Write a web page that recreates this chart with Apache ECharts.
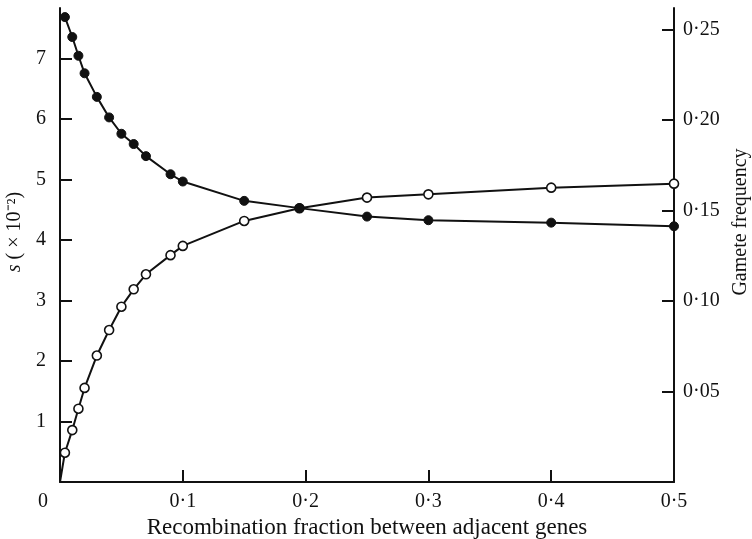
<!DOCTYPE html>
<html>
<head>
<meta charset="utf-8">
<script src="https://cdn.jsdelivr.net/npm/echarts@6/dist/echarts.min.js"></script>
<style>
  html, body { margin: 0; padding: 0; background: #fff; }
  #chart { width: 752px; height: 539px; }
</style>
</head>
<body>
<div id="chart"></div>
<script>
// recombination fraction r, shared by both curves
const recomb = [0.004, 0.01, 0.015, 0.02, 0.03, 0.04, 0.05, 0.06, 0.07, 0.09, 0.1, 0.15, 0.195, 0.25, 0.3, 0.4, 0.5]
// s (x 10^-2), filled circles, left axis
const sValues = [7.69, 7.36, 7.05, 6.76, 6.37, 6.03, 5.76, 5.59, 5.39, 5.09, 4.97, 4.65, 4.53, 4.39, 4.33, 4.29, 4.23]
// gamete frequency, open circles, right axis
const gameteValues = [0.0162, 0.0287, 0.0405, 0.052, 0.0699, 0.084, 0.0969, 0.1065, 0.1148, 0.1254, 0.1305, 0.1443, 0.1513, 0.1572, 0.159, 0.1627, 0.1649]

const xTicks = [0, 0.1, 0.2, 0.3, 0.4, 0.5]
const leftTicks = [1, 2, 3, 4, 5, 6, 7]
const rightTicks = [0.05, 0.1, 0.15, 0.2, 0.25]

const font = 'Liberation Serif'
const ink = '#111'
const dot = (v, n) => v.toFixed(n).replace('.', '\u00b7')

const chart = echarts.init(document.getElementById('chart'))

const axisCommon = {
  axisLine: { show: true, lineStyle: { color: ink, width: 2 } },
  axisTick: { show: true, inside: true, length: 12, lineStyle: { color: ink, width: 2 } },
  splitLine: { show: false },
  nameTextStyle: { color: ink, fontFamily: font, fontSize: 20 }
}

chart.setOption({
  animation: false,
  grid: { left: 60, right: 78, top: 8, bottom: 57, outerBoundsMode: 'none' },
  xAxis: {
    ...axisCommon,
    type: 'value',
    min: 0,
    max: 0.5,
    interval: 0.1,
    name: 'Recombination fraction between adjacent genes',
    nameLocation: 'middle',
    nameGap: 31,
    nameTextStyle: { ...axisCommon.nameTextStyle, fontSize: 23 },
    axisTick: { ...axisCommon.axisTick, customValues: [0.1, 0.2, 0.3, 0.4] },
    axisLabel: {
      customValues: xTicks,
      margin: 10,
      color: ink,
      fontFamily: font,
      fontSize: 20,
      formatter: v => v === 0 ? '{z|0}' : dot(v, 1),
      rich: { z: { fontFamily: font, fontSize: 20, color: ink, padding: [0, 34, 0, 0] } }
    }
  },
  yAxis: [
    {
      ...axisCommon,
      type: 'value',
      position: 'left',
      min: 0,
      max: 7.84,
      name: '{i|s} ( \u00d7 10\u207b\u00b2)',
      nameLocation: 'middle',
      nameRotate: 90,
      nameGap: 31,
      nameTextStyle: {
        ...axisCommon.nameTextStyle,
        padding: [0, 0, 0, 26],
        rich: { i: { fontFamily: font, fontSize: 20, fontStyle: 'italic', color: ink } }
      },
      axisTick: { ...axisCommon.axisTick, customValues: leftTicks },
      axisLabel: {
        customValues: leftTicks,
        margin: 14,
        color: ink,
        fontFamily: font,
        fontSize: 20
      }
    },
    {
      ...axisCommon,
      type: 'value',
      position: 'right',
      min: 0,
      max: 0.262,
      name: 'Gamete frequency',
      nameLocation: 'middle',
      nameRotate: 90,
      nameGap: 56,
      nameTextStyle: { ...axisCommon.nameTextStyle, padding: [0, 0, 0, 46] },
      axisTick: { ...axisCommon.axisTick, customValues: rightTicks },
      axisLabel: {
        customValues: rightTicks,
        margin: 9,
        color: ink,
        fontFamily: font,
        fontSize: 20,
        formatter: v => dot(v, 2)
      }
    }
  ],
  series: [
    {
      name: 'gamete',
      type: 'line',
      yAxisIndex: 1,
      z: 2,
      data: [{ value: [0, 0], symbol: 'none' }].concat(recomb.map((r, i) => [r, gameteValues[i]])),
      symbol: 'circle',
      symbolSize: 9,
      itemStyle: { color: '#fff', borderColor: ink, borderWidth: 1.6 },
      lineStyle: { color: ink, width: 2 }
    },
    {
      name: 's',
      type: 'line',
      yAxisIndex: 0,
      z: 3,
      data: recomb.map((r, i) => [r, sValues[i]]),
      symbol: 'circle',
      symbolSize: 9,
      itemStyle: { color: ink, borderColor: ink, borderWidth: 1 },
      lineStyle: { color: ink, width: 2 }
    }
  ]
})
</script>
</body>
</html>
